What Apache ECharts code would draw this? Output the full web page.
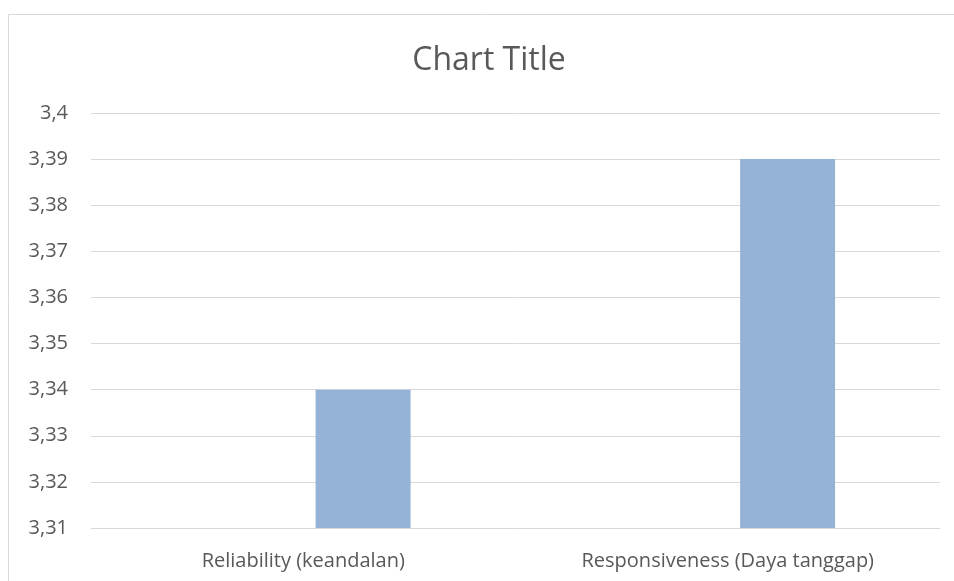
<!DOCTYPE html>
<html>
<head>
<meta charset="utf-8">
<script src="https://cdn.jsdelivr.net/npm/echarts@6/dist/echarts.min.js"></script>
<style>html,body{margin:0;padding:0;background:#fff}#c{width:954px;height:581px}</style>
</head>
<body>
<div id="c"></div>
<script>
const categories = ['Reliability (keandalan)', 'Responsiveness (Daya tanggap)'];
const seriesEmpty = [null, null];
const seriesValues = [3.34, 3.39];
const yTicks = { min: 3.31, max: 3.4, interval: 0.01 };

const chart = echarts.init(document.getElementById('c'), null, { renderer: 'canvas' });
const font = '"Open Sans", "Noto Sans", sans-serif';
chart.setOption({
  animation: false,
  backgroundColor: '#fff',
  title: {
    text: 'Chart Title', left: 484, top: 40, textAlign: 'center',
    textStyle: { fontFamily: font, fontSize: 32, fontWeight: 'normal', color: '#595959' }
  },
  graphic: [{
    type: 'rect', shape: { x: 8.5, y: 14.5, width: 1000, height: 700 },
    style: { fill: 'none', stroke: '#d9d9d9', lineWidth: 1 }, silent: true, z: -1
  }],
  grid: { left: 91, right: 14, top: 113, bottom: 53, containLabel: false },
  xAxis: {
    type: 'category', data: categories,
    axisLine: { show: true, lineStyle: { color: '#d9d9d9', width: 1 } },
    axisTick: { show: false },
    axisLabel: { fontFamily: font, fontSize: 20, color: '#595959', margin: 23 }
  },
  yAxis: {
    type: 'value', min: yTicks.min, max: yTicks.max, interval: yTicks.interval,
    axisLine: { show: false }, axisTick: { show: false },
    splitLine: { lineStyle: { color: '#d9d9d9', width: 1 } },
    axisLabel: {
      fontFamily: font, fontSize: 20, color: '#595959', margin: 23,
      formatter: v => String(Math.round(v * 100) / 100).replace('.', ',')
    }
  },
  series: [
    { type: 'bar', data: seriesEmpty, barWidth: 95, barGap: '26%', itemStyle: { color: '#95b3d7' } },
    { type: 'bar', data: seriesValues, barWidth: 95, barGap: '26%', itemStyle: { color: '#95b3d7' } }
  ]
});
</script>
</body>
</html>
